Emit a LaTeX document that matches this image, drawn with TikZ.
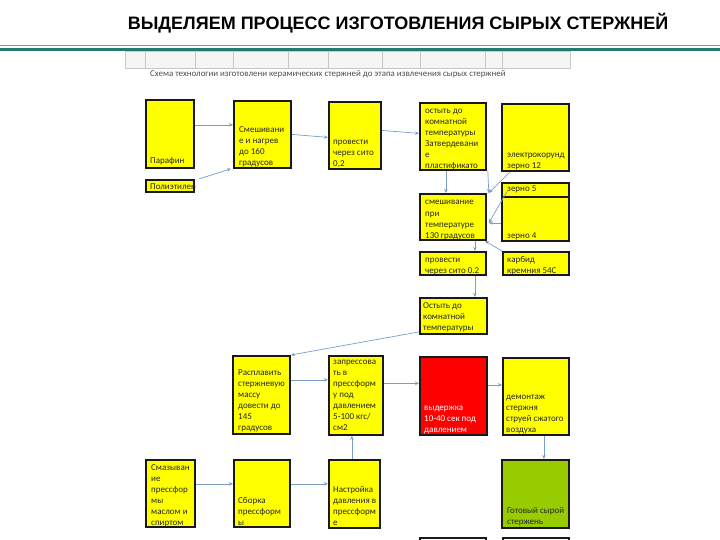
\documentclass[tikz,border=0pt]{standalone}
\usepackage{fontspec}
\setmainfont{Liberation Sans}
\newfontfamily\carlito{Carlito}
\usetikzlibrary{arrows.meta}
\definecolor{boxyellow}{HTML}{FFFF00}
\definecolor{boxred}{HTML}{FF0000}
\definecolor{boxgreen}{HTML}{99CC00}
\definecolor{arrowblue}{HTML}{7B9DC7}
\definecolor{ruledark}{HTML}{247A6C}
\definecolor{rulelight}{HTML}{5AA697}
\tikzset{
  blk/.style={draw=black!90, line width=1.8pt, inner sep=0pt, anchor=north west},
  txt/.style={font=\carlito\fontsize{9}{11}\selectfont, text=black!85, align=left, inner sep=0pt, anchor=base west},
  arr/.style={draw=arrowblue, line width=0.7pt, -{Stealth[length=4pt,width=3.5pt]}},
  cell/.style={draw=black!22, fill=black!4, line width=0.6pt}
}
\begin{document}
\begin{tikzpicture}[x=1pt,y=-1pt]
\useasboundingbox (0,0) rectangle (720,540);
% title
\node[font=\bfseries\fontsize{18}{20}\selectfont] (title) at (398,23) {ВЫДЕЛЯЕМ ПРОЦЕСС ИЗГОТОВЛЕНИЯ СЫРЫХ СТЕРЖНЕЙ};
\draw[rulelight, line width=1.4pt] (0,45.5) -- (720,45.5);
\draw[ruledark, line width=3.5pt] (0,49.3) -- (720,49.3);
% strip of the scanned table
\foreach \xa/\xb in {125/145,145/195,195/233,233/288,288/328,328/382,382/420,420/485,485/502,502/570} {
  \draw[cell] (\xa,51.5) rectangle (\xb,68.5);
}
\node[font=\carlito\fontsize{8.9}{10}\selectfont, text=black!70, inner sep=0pt, anchor=base west] (caption) at (150,76.5) {Схема технологии изготовлени керамических стержней до этапа извлечения сырых стержней};
% boxes
\foreach \n/\xa/\ya/\xb/\yb/\c in {paraf/145/99/193/167/boxyellow, poly/145/179/193/191/boxyellow,
    mix/233/100/290/167/boxyellow, sieve/328/101/380/168/boxyellow, cool/419/102/485/169/boxyellow,
    corund/501/103/568/170/boxyellow, zfive/501/182/568/196/boxyellow, zfour/501/196/568/240/boxyellow,
    mixhot/419/193/485/239/boxyellow, sievetwo/419/251/485/274/boxyellow, carb/502/251/568/274/boxyellow,
    coolmass/419/297/486/333/boxyellow, melt/232/355/289/433/boxyellow, press/328/355/382/434/boxyellow,
    hold/419/356/486/434/boxred, demount/502/357/568/434/boxyellow, lube/145/459/194/526/boxyellow,
    assem/233/459/289/526/boxyellow, tune/328/459/379/527/boxyellow, ready/501/459/568/527/boxgreen,
    nextA/419/537/485/542/white, nextB/502/537/568/542/white} {
  \node[blk, fill=\c, minimum width={(\xb-\xa)*1pt}, minimum height={(\yb-\ya)*1pt}] (\n) at (\xa,\ya) {};
}
% texts (placed by the baseline of the last line)
\node[txt] (tparaf) at (150,164) {Парафин};
\node[txt] (tpoly) at (150,190) {Полиэтилен};
\node[txt] (tmix) at (239,166) {Смешивани\\е и нагрев\\до 160\\градусов};
\node[txt] (tsieve) at (333,167) {провести\\через сито\\0,2};
\node[txt] (tcool) at (425,169) {остыть до\\комнатной\\температуры\\Затвердевани\\е\\пластификато};
\node[txt] (tcorund) at (507,169) {электрокорунд\\зерно 12};
\node[txt] (tzfive) at (507,192) {зерно 5};
\node[txt] (tzfour) at (507,238) {зерно 4};
\node[txt] (tmixhot) at (425,238) {смешивание\\при\\температуре\\130 градусов};
\node[txt] (tsievetwo) at (425,273) {провести\\через сито 0.2};
\node[txt] (tcarb) at (507,273) {карбид\\кремния 54С};
\node[txt] (tcoolmass) at (423,330) {Остыть до\\комнатной\\температуры};
\node[txt] (tmelt) at (238,430) {Расплавить\\стержневую\\массу\\довести до\\145\\градусов};
\node[txt] (tpress) at (333,430) {запрессова\\ть в\\прессформ\\у под\\давлением\\5-100 кгс/\\см2};
\node[txt, text=white] (thold) at (424,432) {выдержка\\10-40 сек под\\давлением};
\node[txt] (tdemount) at (506,432) {демонтаж\\стержня\\струей сжатого\\воздуха};
\node[txt] (tlube) at (151,525) {Смазыван\\ие\\прессфор\\мы\\маслом и\\спиртом};
\node[txt] (tassem) at (238,525) {Сборка\\прессформ\\ы};
\node[txt] (ttune) at (333,525) {Настройка\\давления в\\прессформ\\е};
\node[txt] (tready) at (507,524) {Готовый сырой\\стержень};
% connectors
\draw[arr] ([yshift=9pt]paraf.east) -- ([yshift=9pt]paraf.east -| mix.west);
\draw[arr] ([xshift=4pt]poly.north east) -- ([xshift=-2pt]mix.south west);
\draw[arr] (mix.east) -- ([yshift=-2pt]sieve.west);
\draw[arr] ([yshift=5pt]sieve.east) -- ([yshift=3pt]cool.west);
\draw[arr] ([xshift=-7pt]cool.south) -- ([xshift=-7pt]mixhot.north);
\draw[arr] ([xshift=1pt]cool.south east) -- ([xshift=2pt]mixhot.north east);
\draw[arr] ([xshift=9pt]corund.south west) -- ([xshift=2pt]mixhot.north east);
\draw[arr] ([xshift=7pt]zfive.west) -- ([xshift=2pt,yshift=-6pt]mixhot.east);
\draw[arr] ([yshift=-4pt]zfour.west) -- ([xshift=2pt,yshift=-6pt]mixhot.east);
\draw[arr] (carb.north west) -- ([xshift=-2pt]mixhot.south east);
\draw[arr] ([xshift=22pt]mixhot.south) -- ([xshift=22pt]mixhot.south |- sievetwo.north);
\draw[arr] ([xshift=22pt]sievetwo.south) -- ([xshift=22pt]sievetwo.south |- coolmass.north);
\draw[arr] ([yshift=-16pt]coolmass.west) -- (melt.north east);
\draw[arr] ([yshift=15pt]melt.east) -- ([yshift=15pt]melt.east -| press.west);
\draw[arr] ([yshift=12pt]press.east) -- ([yshift=12pt]press.east -| hold.west);
\draw[arr] ([yshift=11pt]hold.east) -- ([yshift=11pt]hold.east -| demount.west);
\draw[arr] ([xshift=8pt]demount.south) -- ([xshift=8pt]demount.south |- ready.north);
\draw[arr] ([yshift=9.5pt]lube.east) -- ([yshift=9.5pt]lube.east -| assem.west);
\draw[arr] ([yshift=9.5pt]assem.east) -- ([yshift=9.5pt]assem.east -| tune.west);
\draw[arr] ([xshift=-2.5pt]tune.north) -- ([xshift=-2.5pt]tune.north |- press.south);
\end{tikzpicture}
\end{document}
